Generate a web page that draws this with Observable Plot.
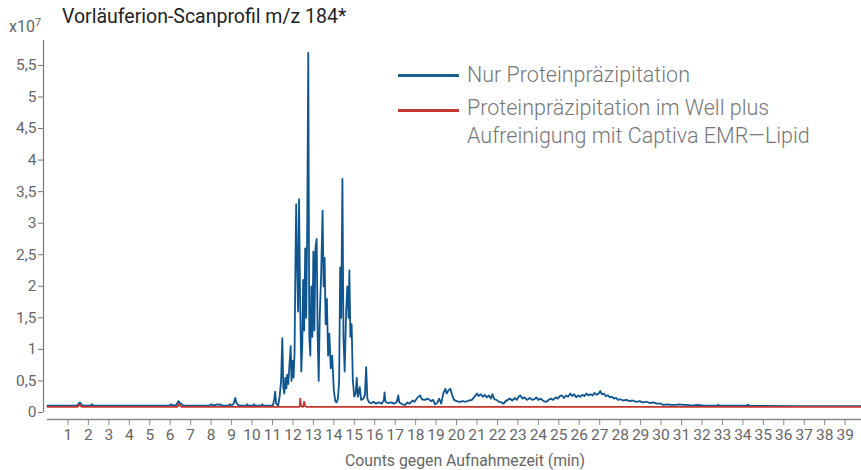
<!DOCTYPE html>
<html>
<head>
<meta charset="utf-8">
<script src="https://cdn.jsdelivr.net/npm/d3@7"></script>
<script src="https://cdn.jsdelivr.net/npm/@observablehq/plot@0.6"></script>
<style>
  body { margin: 0; background: #fff; font-family: Roboto, "Noto Sans", sans-serif; }
  #wrap { position: relative; width: 861px; height: 470px; }
  .ov { position: absolute; white-space: nowrap; }
  #title { left: 62px; top: 5px; font-size: 19.5px; color: #222; }
  #exp { left: 9px; top: 16px; font-size: 16px; color: #666; }
  #exp sup { font-size: 11px; vertical-align: 6px; }
  .lg { font-size: 21.5px; color: #777; font-weight: 300; line-height: 28px; }
  .sw { position: absolute; width: 61px; height: 2.5px; }
  #xlab { left: 0; width: 930px; text-align: center; top: 451px; font-size: 15.8px; color: #666; }
</style>
</head>
<body>
<div id="wrap">
  <div id="chart"></div>
  <div class="ov" id="exp">x10<sup>7</sup></div>
  <div class="ov" id="title">Vorläuferion-Scanprofil m/z 184*</div>
  <div class="sw" id="sw1" style="left:398px; top:74px; background:#1b5f8f;"></div>
  <div class="ov lg" id="lg1" style="left:467px; top:61px;"></div>
  <div class="sw" id="sw2" style="left:398px; top:109px; background:#c0392b;"></div>
  <div class="ov lg" id="lg2" style="left:467px; top:94px;"></div>
  <div class="ov" id="xlab"></div>
</div>
<script>
const seriesNames = ["Nur Proteinpräzipitation", "Proteinpräzipitation im Well plus<br>Aufreinigung mit Captiva EMR—Lipid"];
const xLabel = "Counts gegen Aufnahmezeit (min)";
const yTicks = [0, 0.5, 1, 1.5, 2, 2.5, 3, 3.5, 4, 4.5, 5, 5.5];
const xTicks = d3.range(1, 40);

const blueTime = [0.0,1.45,1.52,1.58,1.65,1.72,2.1,2.17,2.24,5.95,6.05,6.12,6.3,6.4,6.48,6.55,6.65,7.9,8.02,8.1,8.28,8.36,8.44,8.52,8.85,8.92,9.0,9.1,9.18,9.24,9.32,9.4,9.72,9.77,9.82,10.05,10.1,10.15,10.45,10.5,10.55,11.02,11.08,11.13,11.18,11.28,11.35,11.42,11.48,11.53,11.58,11.63,11.68,11.72,11.77,11.82,11.89,11.93,11.98,12.03,12.08,12.12,12.16,12.2,12.25,12.3,12.35,12.41,12.46,12.5,12.55,12.6,12.65,12.7,12.75,12.8,12.85,12.9,12.95,13.0,13.05,13.1,13.16,13.21,13.26,13.31,13.38,13.45,13.5,13.55,13.6,13.66,13.72,13.78,13.85,13.92,14.0,14.07,14.13,14.2,14.26,14.31,14.36,14.42,14.47,14.53,14.6,14.66,14.72,14.76,14.81,14.87,14.93,15.0,15.07,15.12,15.18,15.27,15.33,15.45,15.52,15.58,15.64,15.72,15.85,15.95,16.05,16.2,16.35,16.45,16.48,16.52,16.65,16.8,16.95,17.08,17.15,17.2,17.35,17.5,17.6,17.7,17.85,17.95,18.1,18.22,18.3,18.45,18.6,18.75,18.85,18.95,19.05,19.15,19.25,19.35,19.45,19.52,19.6,19.7,19.78,19.88,20.0,20.15,20.3,20.45,20.6,20.75,20.9,21.0,21.08,21.18,21.28,21.38,21.48,21.58,21.68,21.75,21.85,21.95,22.08,22.2,22.3,22.4,22.5,22.62,22.72,22.85,22.95,23.05,23.12,23.22,23.32,23.45,23.58,23.7,23.8,23.9,24.0,24.12,24.25,24.4,24.5,24.62,24.72,24.85,24.95,25.05,25.15,25.25,25.35,25.45,25.56,25.65,25.75,25.85,25.95,26.05,26.15,26.25,26.35,26.45,26.55,26.65,26.75,26.85,26.95,27.03,27.1,27.2,27.3,27.4,27.5,27.6,27.7,27.8,27.9,28.0,28.15,28.3,28.45,28.6,28.8,28.95,29.1,29.3,29.45,29.6,29.8,30.0,30.1,30.3,30.5,30.7,30.9,31.1,31.3,31.5,31.8,32.1,32.4,32.75,32.8,32.85,33.5,34.2,34.26,34.32,35.0,36.5,38.0,39.8];
const blueValue = [0.11,0.11,0.14,0.16,0.13,0.11,0.11,0.13,0.11,0.11,0.13,0.11,0.12,0.18,0.15,0.13,0.11,0.11,0.13,0.11,0.13,0.12,0.13,0.11,0.11,0.13,0.11,0.14,0.23,0.15,0.12,0.11,0.11,0.13,0.11,0.11,0.13,0.11,0.11,0.13,0.11,0.11,0.2,0.33,0.14,0.11,0.25,0.5,1.18,0.4,0.3,0.55,0.38,0.6,0.45,0.7,1.05,0.5,0.82,0.55,0.95,2.3,3.3,2.4,1.6,3.38,1.8,0.65,1.1,2.1,1.3,2.6,1.5,3.0,5.7,1.2,0.9,2.0,1.2,2.55,1.3,2.6,2.75,1.2,0.5,1.5,2.2,3.2,2.0,2.45,1.4,1.8,0.9,1.25,0.7,0.9,0.35,0.18,0.16,0.22,0.5,2.3,1.5,3.7,1.2,0.65,1.6,2.0,1.5,2.25,1.2,1.4,0.5,0.25,0.3,0.55,0.25,0.4,0.2,0.22,0.28,0.72,0.22,0.16,0.15,0.17,0.14,0.16,0.14,0.2,0.32,0.17,0.15,0.16,0.14,0.17,0.27,0.16,0.13,0.12,0.16,0.14,0.19,0.17,0.24,0.27,0.21,0.2,0.22,0.18,0.2,0.13,0.15,0.22,0.14,0.3,0.375,0.3,0.35,0.375,0.28,0.2,0.18,0.17,0.18,0.17,0.19,0.2,0.26,0.3,0.26,0.29,0.25,0.28,0.24,0.27,0.22,0.29,0.21,0.2,0.17,0.16,0.14,0.18,0.2,0.22,0.19,0.23,0.2,0.26,0.27,0.22,0.24,0.2,0.23,0.2,0.21,0.24,0.2,0.22,0.18,0.17,0.2,0.22,0.2,0.24,0.22,0.26,0.27,0.23,0.27,0.25,0.3,0.26,0.29,0.24,0.27,0.25,0.28,0.26,0.3,0.27,0.29,0.27,0.31,0.28,0.3,0.34,0.29,0.3,0.26,0.27,0.24,0.25,0.22,0.23,0.2,0.21,0.19,0.2,0.18,0.19,0.17,0.18,0.16,0.17,0.15,0.16,0.14,0.14,0.12,0.13,0.12,0.12,0.13,0.12,0.12,0.11,0.12,0.11,0.11,0.11,0.125,0.11,0.11,0.11,0.125,0.11,0.105,0.1,0.1,0.1];

const redTime = [0,1.48,1.55,1.62,1.7,6.35,6.42,6.5,6.58,12.3,12.33,12.36,12.39,12.5,12.55,12.6,12.65,39.8];
const redValue = [0.09,0.09,0.13,0.1,0.09,0.09,0.14,0.1,0.09,0.09,0.1,0.22,0.1,0.09,0.17,0.1,0.09,0.09];

const blue = blueTime.map((t, i) => ({t, v: blueValue[i]}));
const red = redTime.map((t, i) => ({t, v: redValue[i]}));

const xMax = 39.8, yMin = -0.111, yMax = 5.895;

const chart = Plot.plot({
  width: 861,
  height: 470,
  marginLeft: 47,
  marginRight: 0,
  marginTop: 40,
  marginBottom: 51,
  style: { fontFamily: "Roboto, sans-serif", color: "#666", background: "#fff" },
  x: { domain: [0, xMax] },
  y: { domain: [yMin, yMax] },
  marks: [
    Plot.ruleX([0], { y1: 0, y2: yMax, dx: -4, stroke: "#777", strokeWidth: 1.2 }),
    Plot.axisY({ ticks: yTicks, tickSize: 5, tickPadding: 2, dx: -4, fontSize: 15.5, stroke: "#777",
      tickFormat: d => String(d).replace(".", ","), label: null }),
    Plot.ruleY([yMin], { x1: 0, x2: xMax, stroke: "#888", strokeWidth: 1.5 }),
    Plot.axisX({ ticks: xTicks, tickSize: 6, tickPadding: 3, fontSize: 15.5, stroke: "#888", tickFormat: d => String(d), label: null }),
    Plot.line(blue, { x: "t", y: "v", stroke: "#0f5590", strokeWidth: 1.8 }),
    Plot.line(red, { x: "t", y: "v", stroke: "#c4372c", strokeWidth: 1.8 })
  ]
});
document.getElementById("chart").appendChild(chart);
document.getElementById("lg1").innerHTML = seriesNames[0];
document.getElementById("lg2").innerHTML = seriesNames[1];
document.getElementById("xlab").textContent = xLabel;
</script>
</body>
</html>
